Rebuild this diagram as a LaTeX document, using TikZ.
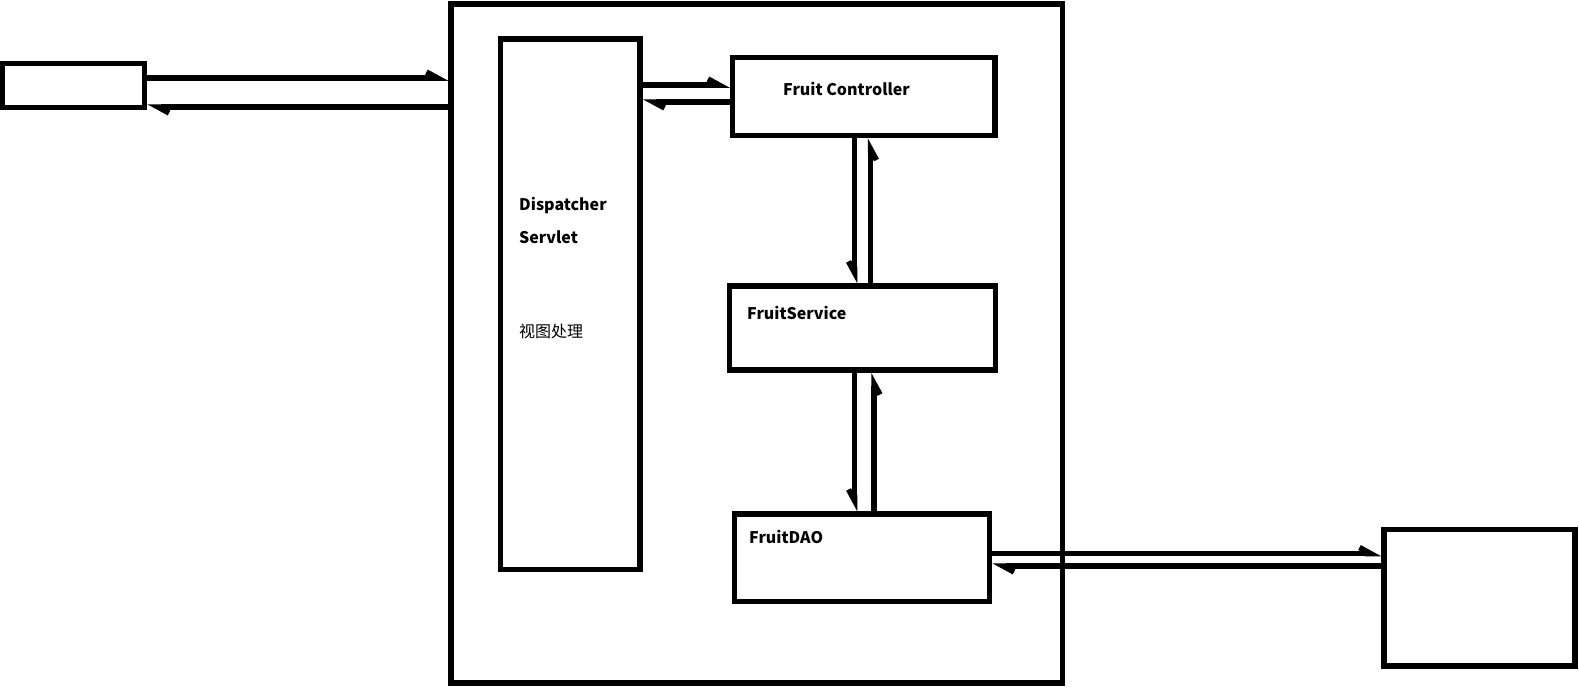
\documentclass[tikz,border=0pt]{standalone}
\usepackage{fontspec}
\setmainfont{Noto Sans CJK SC}
\usetikzlibrary{arrows.meta}
\begin{document}
\begin{tikzpicture}[x=1pt,y=-1pt,
  box/.style={draw,line width=5.5pt,rectangle,inner sep=0pt},
  lbl/.style={anchor=west,inner sep=0pt,font=\fontsize{16}{18}\selectfont\bfseries},
  cjk/.style={anchor=west,inner sep=0pt,font=\fontsize{16}{18}\selectfont},
  conn/.style={line width=5.5pt},
  hl/.style={conn,-{Straight Barb[left,length=11pt,width=12pt]}},
  hr/.style={conn,-{Straight Barb[right,length=11pt,width=12pt]}}]
\useasboundingbox (0,0) rectangle (1579,688);
\node[box,minimum width=142pt,minimum height=44pt] (client) at (73.5,85.5) {};
\node[box,minimum width=611.5pt,minimum height=679pt] (big) at (756.75,343.5) {};
\node[box,minimum width=139.5pt,minimum height=530.5pt] (ds) at (570.25,304.25) {};
\node[box,minimum width=262.5pt,minimum height=78pt] (fc) at (863.75,96.5) {};
\node[box,minimum width=266pt,minimum height=84pt] (fs) at (862.5,328) {};
\node[box,minimum width=255pt,minimum height=87.5pt] (dao) at (862,557.75) {};
\node[box,minimum width=191pt,minimum height=136.5pt] (db) at (1479.5,597.75) {};
\node[lbl] (tfc) at (783,89) {Fruit Controller};
\node[lbl] (tfs) at (747,313) {FruitService};
\node[lbl] (tdao) at (749,537) {FruitDAO};
\node[lbl] (tds1) at (519,206) {Dispatcher};
\node[lbl] (tds2) at (519,237) {Servlet};
\node[cjk] (tds3) at (519,331) {视图处理};
% client <-> container
\draw[hl] (client.east |- 0,78) -- (big.west |- 0,78);
\draw[hl] (big.west |- 0,107) -- (client.east |- 0,107);
% dispatcher <-> controller
\draw[hl] (ds.east |- 0,85) -- (fc.west |- 0,85);
\draw[hl] (fc.west |- 0,102) -- (ds.east |- 0,102);
% controller <-> service
\draw[hr] (fc.south -| 854.5,0) -- (fs.north -| 854.5,0);
\draw[hr] (fs.north -| 870.5,0) -- (fc.south -| 870.5,0);
% service <-> dao
\draw[hr] (fs.south -| 854.5,0) -- (dao.north -| 854.5,0);
\draw[hr] (dao.north -| 874,0) -- (fs.south -| 874,0);
% dao <-> db
\draw[hl] (dao.east |- 0,553.5) -- (db.west |- 0,553.5);
\draw[hl] (db.west |- 0,566) -- (dao.east |- 0,566);
\end{tikzpicture}
\end{document}
